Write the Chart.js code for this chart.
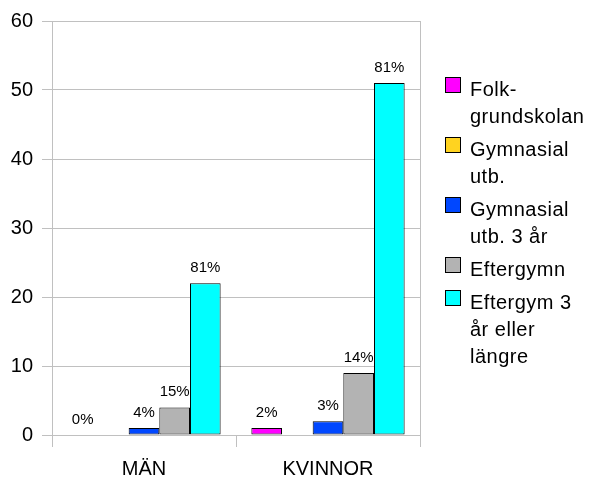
<!DOCTYPE html>
<html>
<head>
<meta charset="utf-8">
<script src="https://cdn.jsdelivr.net/npm/chart.js@4/dist/chart.umd.min.js"></script>
<style>
  html, body { margin: 0; padding: 0; background: #fff; }
  #wrap { position: relative; width: 589px; height: 477px; }
  canvas { position: absolute; left: 0; top: 0; }
  #legend { position: absolute; left: 445px; top: 76px; font-family: "Liberation Sans", Arial, sans-serif; font-size: 20px; line-height: 27px; letter-spacing: 0.5px; color: #000; }
  .item { position: relative; padding-left: 25px; margin-bottom: 6px; white-space: nowrap; }
  .box { position: absolute; left: 0; top: 1px; width: 16px; height: 16px; box-sizing: border-box; border: 1px solid #000; }
</style>
</head>
<body>
<div id="wrap">
  <canvas id="c" width="589" height="477"></canvas>
  <div id="legend"></div>
</div>
<script>
const categories = ['MÄN', 'KVINNOR'];
const seriesNames = ['Folk-grundskolan', 'Gymnasial utb.', 'Gymnasial utb. 3 år', 'Eftergymn', 'Eftergym 3 år eller längre'];
const legendLines = [['Folk-', 'grundskolan'], ['Gymnasial', 'utb.'], ['Gymnasial', 'utb. 3 år'], ['Eftergymn'], ['Eftergym 3', 'år eller', 'längre']];
const folkValues = [0, 1];
const gymValues = [0, 0];
const gym3Values = [1, 2];
const efterValues = [4, 9];
const efter3Values = [22, 51];
const folkPct = ['0%', '2%'];
const gymPct = ['', ''];
const gym3Pct = ['4%', '3%'];
const efterPct = ['15%', '14%'];
const efter3Pct = ['81%', '81%'];
const yTicks = [0, 10, 20, 30, 40, 50, 60];

const colors = ['#ff00ff', '#ffd320', '#0047ff', '#b3b3b3', '#00ffff'];
const values = [folkValues, gymValues, gym3Values, efterValues, efter3Values];
const pcts = [folkPct, gymPct, gym3Pct, efterPct, efter3Pct];
const FONT = '"Liberation Sans", Arial, sans-serif';
const GRID = '#c0c0c0';

const datasets = seriesNames.map((n, i) => ({
  label: n,
  data: values[i],
  pctLabels: pcts[i],
  backgroundColor: colors[i],
  borderColor: '#000',
  borderWidth: 1,
  borderSkipped: false,
  categoryPercentage: 0.833,
  barPercentage: 1.0
}));

const pctPlugin = {
  id: 'pct',
  afterDatasetsDraw(chart) {
    const ctx = chart.ctx;
    ctx.save();
    ctx.font = '15px ' + FONT;
    ctx.fillStyle = '#000';
    ctx.textAlign = 'center';
    ctx.textBaseline = 'alphabetic';
    chart.data.datasets.forEach((ds, di) => {
      const meta = chart.getDatasetMeta(di);
      meta.data.forEach((bar, i) => {
        const t = ds.pctLabels[i];
        if (t) ctx.fillText(t, bar.x, bar.y - 11);
      });
    });
    ctx.restore();
  }
};

new Chart(document.getElementById('c'), {
  type: 'bar',
  data: { labels: categories, datasets },
  options: {
    responsive: false,
    animation: false,
    devicePixelRatio: 1,
    layout: { padding: { left: 0, right: 169, top: 20, bottom: 0 } },
    plugins: { legend: { display: false }, tooltip: { enabled: false } },
    scales: {
      x: {
        afterFit(s) { s.height = 42; },
        grid: {
          offset: true,
          drawOnChartArea: true,
          color: (c) => (c.index === 1 ? 'rgba(0,0,0,0)' : GRID),
          tickColor: GRID,
          tickLength: 12
        },
        border: { color: GRID },
        ticks: { color: '#000', font: { family: FONT, size: 20, lineHeight: 1.2 }, padding: 10 }
      },
      y: {
        min: 0, max: 60,
        afterFit(s) { s.width = 52; },
        afterBuildTicks(s) { s.ticks = yTicks.map(v => ({ value: v })); },
        grid: { color: GRID, tickLength: 10 },
        border: { color: GRID },
        ticks: { color: '#000', font: { family: FONT, size: 20 }, padding: 9 }
      }
    }
  },
  plugins: [pctPlugin]
});

const leg = document.getElementById('legend');
legendLines.forEach((lines, i) => {
  const it = document.createElement('div');
  it.className = 'item';
  const b = document.createElement('div');
  b.className = 'box';
  b.style.background = colors[i];
  it.appendChild(b);
  lines.forEach((l, j) => {
    if (j) it.appendChild(document.createElement('br'));
    it.appendChild(document.createTextNode(l));
  });
  leg.appendChild(it);
});
</script>
</body>
</html>
